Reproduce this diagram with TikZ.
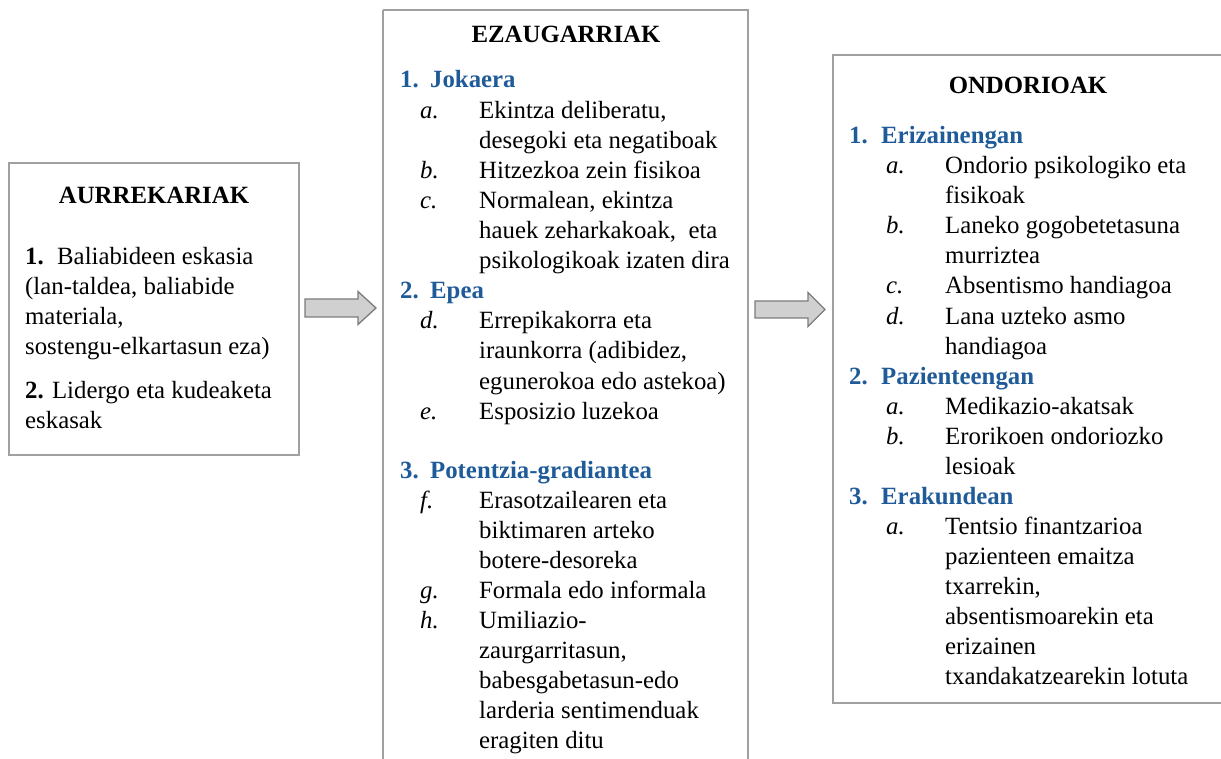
\documentclass[tikz,border=0pt]{standalone}
\usepackage{fontspec}
\setmainfont{Liberation Serif}
\definecolor{boxline}{RGB}{160,160,160}
\definecolor{headblue}{RGB}{31,91,153}
\definecolor{arrowfill}{RGB}{208,208,208}
\definecolor{arrowline}{RGB}{125,125,125}
\tikzset{
  panel/.style={draw=boxline, line width=1.5pt},
  blockarrow/.style={draw=arrowline, fill=arrowfill, line width=1.3pt, line join=miter},
  txt/.style={anchor=base west, inner sep=0pt, font=\fontsize{24.8}{30}\selectfont},
  ttl/.style={anchor=base, inner sep=0pt, font=\fontsize{24.8}{30}\selectfont\bfseries},
  hd/.style={txt, text=headblue, font=\fontsize{24.8}{30}\selectfont\bfseries}
}
\newcommand{\itm}[1]{\makebox[59pt][l]{\itshape #1}}
\begin{document}
\begin{tikzpicture}[x=1pt,y=-1pt]
\clip (0,0) rectangle (1221,759);
\fill[white] (0,0) rectangle (1221,759);
% panels
\draw[panel] (9,163) rectangle (299,455);
\draw[panel] (383,10) -- (383,770) (748,770) -- (748,10) -- (383,10);
\draw[panel] (833,55) rectangle (1226,703);
% arrows
\draw[blockarrow] (305,299) -- (358,299) -- (358,291.5) -- (376,308) -- (358,324.5) -- (358,317) -- (305,317) -- cycle;
\draw[blockarrow] (755,301) -- (808,301) -- (808,292.5) -- (825,309.5) -- (808,326.5) -- (808,318) -- (755,318) -- cycle;
% left box
\node[ttl] (t1) at (154,204) {AURREKARIAK};
\node[txt] (l1) at (25,265) {\makebox[32pt][l]{\bfseries 1.}Baliabideen eskasia};
\node[txt] (l2) at (25,295) {(lan-taldea, baliabide};
\node[txt] (l3) at (25,325) {materiala,};
\node[txt] (l4) at (25,355) {sostengu-elkartasun eza)};
\node[txt] (l5) at (25,398) {\textbf{2.} Lidergo eta kudeaketa};
\node[txt] (l6) at (25,428) {eskasak};
% middle box
\node[ttl] (t2) at (566,43) {EZAUGARRIAK};
\node[hd] (m1) at (400,88) {\makebox[30pt][l]{1.}Jokaera};
\node[txt] (m2) at (420,118.1) {\itm{a.}Ekintza deliberatu,};
\node[txt] (m3) at (479,148.2) {desegoki eta negatiboak};
\node[txt] (m4) at (420,178.3) {\itm{b.}Hitzezkoa zein fisikoa};
\node[txt] (m5) at (420,208.4) {\itm{c.}Normalean, ekintza};
\node[txt] (m6) at (479,238.5) {hauek zeharkakoak,\ \ eta};
\node[txt] (m7) at (479,268.6) {psikologikoak izaten dira};
\node[hd] (m8) at (400,298.7) {\makebox[30pt][l]{2.}Epea};
\node[txt] (m9) at (420,328.8) {\itm{d.}Errepikakorra eta};
\node[txt] (m10) at (479,358.9) {iraunkorra (adibidez,};
\node[txt] (m11) at (479,389) {egunerokoa edo astekoa)};
\node[txt] (m12) at (420,419.1) {\itm{e.}Esposizio luzekoa};
\node[hd] (m13) at (400,478) {\makebox[30pt][l]{3.}Potentzia-gradiantea};
\node[txt] (m14) at (420,508.1) {\itm{f.}Erasotzailearen eta};
\node[txt] (m15) at (479,538.2) {biktimaren arteko};
\node[txt] (m16) at (479,568.3) {botere-desoreka};
\node[txt] (m17) at (420,598.4) {\itm{g.}Formala edo informala};
\node[txt] (m18) at (420,628.5) {\itm{h.}Umiliazio-};
\node[txt] (m19) at (479,658.6) {zaurgarritasun,};
\node[txt] (m20) at (479,688.7) {babesgabetasun-edo};
\node[txt] (m21) at (479,718.8) {larderia sentimenduak};
\node[txt] (m22) at (479,748.9) {eragiten ditu};
% right box
\node[ttl] (t3) at (1028,94) {ONDORIOAK};
\node[hd] (r1) at (849,144) {\makebox[32pt][l]{1.}Erizainengan};
\node[txt] (r2) at (886,174) {\itm{a.}Ondorio psikologiko eta};
\node[txt] (r3) at (945,204) {fisikoak};
\node[txt] (r4) at (886,234) {\itm{b.}Laneko gogobetetasuna};
\node[txt] (r5) at (945,264) {murriztea};
\node[txt] (r6) at (886,294) {\itm{c.}Absentismo handiagoa};
\node[txt] (r7) at (886,324) {\itm{d.}Lana uzteko asmo};
\node[txt] (r8) at (945,354) {handiagoa};
\node[hd] (r9) at (849,384) {\makebox[32pt][l]{2.}Pazienteengan};
\node[txt] (r10) at (886,414) {\itm{a.}Medikazio-akatsak};
\node[txt] (r11) at (886,444) {\itm{b.}Erorikoen ondoriozko};
\node[txt] (r12) at (945,474) {lesioak};
\node[hd] (r13) at (849,504) {\makebox[32pt][l]{3.}Erakundean};
\node[txt] (r14) at (886,534) {\itm{a.}Tentsio finantzarioa};
\node[txt] (r15) at (945,564) {pazienteen emaitza};
\node[txt] (r16) at (945,594) {txarrekin,};
\node[txt] (r17) at (945,624) {absentismoarekin eta};
\node[txt] (r18) at (945,654) {erizainen};
\node[txt] (r19) at (945,684) {txandakatzearekin lotuta};
\end{tikzpicture}
\end{document}
